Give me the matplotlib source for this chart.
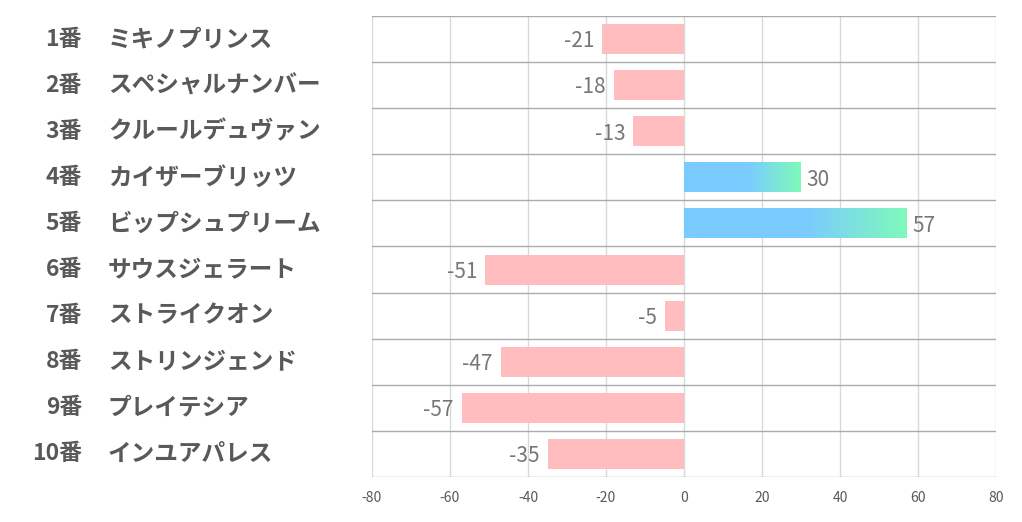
import matplotlib.pyplot as plt
import matplotlib.transforms as mtransforms
import numpy as np

plt.rcParams['font.family'] = ['Noto Sans CJK JP', 'DejaVu Sans']

numbers = ["1番", "2番", "3番", "4番", "5番", "6番", "7番", "8番", "9番", "10番"]
names = ["ミキノプリンス", "スペシャルナンバー", "クルールデュヴァン", "カイザーブリッツ",
         "ビップシュプリーム", "サウスジェラート", "ストライクオン", "ストリンジェンド",
         "プレイテシア", "インユアパレス"]
values = [-21, -18, -13, 30, 57, -51, -5, -47, -57, -35]
xticks = [-80, -60, -40, -20, 0, 20, 40, 60, 80]

pink = "#FFBDBF"
blue = np.array([122, 203, 255]) / 255
green = np.array([127, 250, 186]) / 255

fig = plt.figure(figsize=(10.22, 5.22), dpi=100)
ax = fig.add_axes([372 / 1022, 1 - 477 / 522, 624 / 1022, 461 / 522])

n = len(values)
ypos = np.arange(n)
bh = 0.65

# gradient for positive bars
t = np.linspace(0, 1, 256)
w = np.clip((t - 0.55) / 0.45, 0, 1)
grad = (blue[None, :] * (1 - w[:, None]) + green[None, :] * w[:, None])[None, :, :]

for y, v in zip(ypos, values):
    if v < 0:
        ax.barh(y, v, height=bh, color=pink, zorder=2)
        ax.text(v - 2, y + 0.05, str(v), ha="right", va="center", fontsize=15, color="#767676")
    else:
        bars = ax.barh(y, v, height=bh, color="none", zorder=2)
        im = ax.imshow(grad, extent=[0, v, y + bh / 2, y - bh / 2], aspect="auto", zorder=2)
        im.set_clip_path(bars[0])
        ax.text(v + 1.5, y + 0.05, str(v), ha="left", va="center", fontsize=15, color="#767676")

ax.set_xlim(-80, 80)
ax.set_ylim(n - 0.5, -0.5)

for x in xticks:
    ax.axvline(x, color="#D9D9D9", lw=1, zorder=1)
for b in np.arange(n + 1) - 0.5:
    ax.axhline(b, color="#ABABAB", lw=1, zorder=1)

for s in ax.spines.values():
    s.set_visible(False)
ax.set_yticks([])
ax.set_xticks(xticks)
ax.set_xticklabels([str(x) for x in xticks], fontsize=10, color="#595959")
ax.tick_params(axis="x", length=0, pad=10)

trans = mtransforms.blended_transform_factory(fig.transFigure, ax.transData)
for y, num, name in zip(ypos, numbers, names):
    fig.text(82 / 1022, y, num, transform=trans, ha="right", va="center",
             fontsize=16.5, fontweight="bold", color="#595959")
    fig.text(108 / 1022, y, name, transform=trans, ha="left", va="center",
             fontsize=17, fontweight="bold", color="#595959")

fig.savefig("out.png", dpi=100)
